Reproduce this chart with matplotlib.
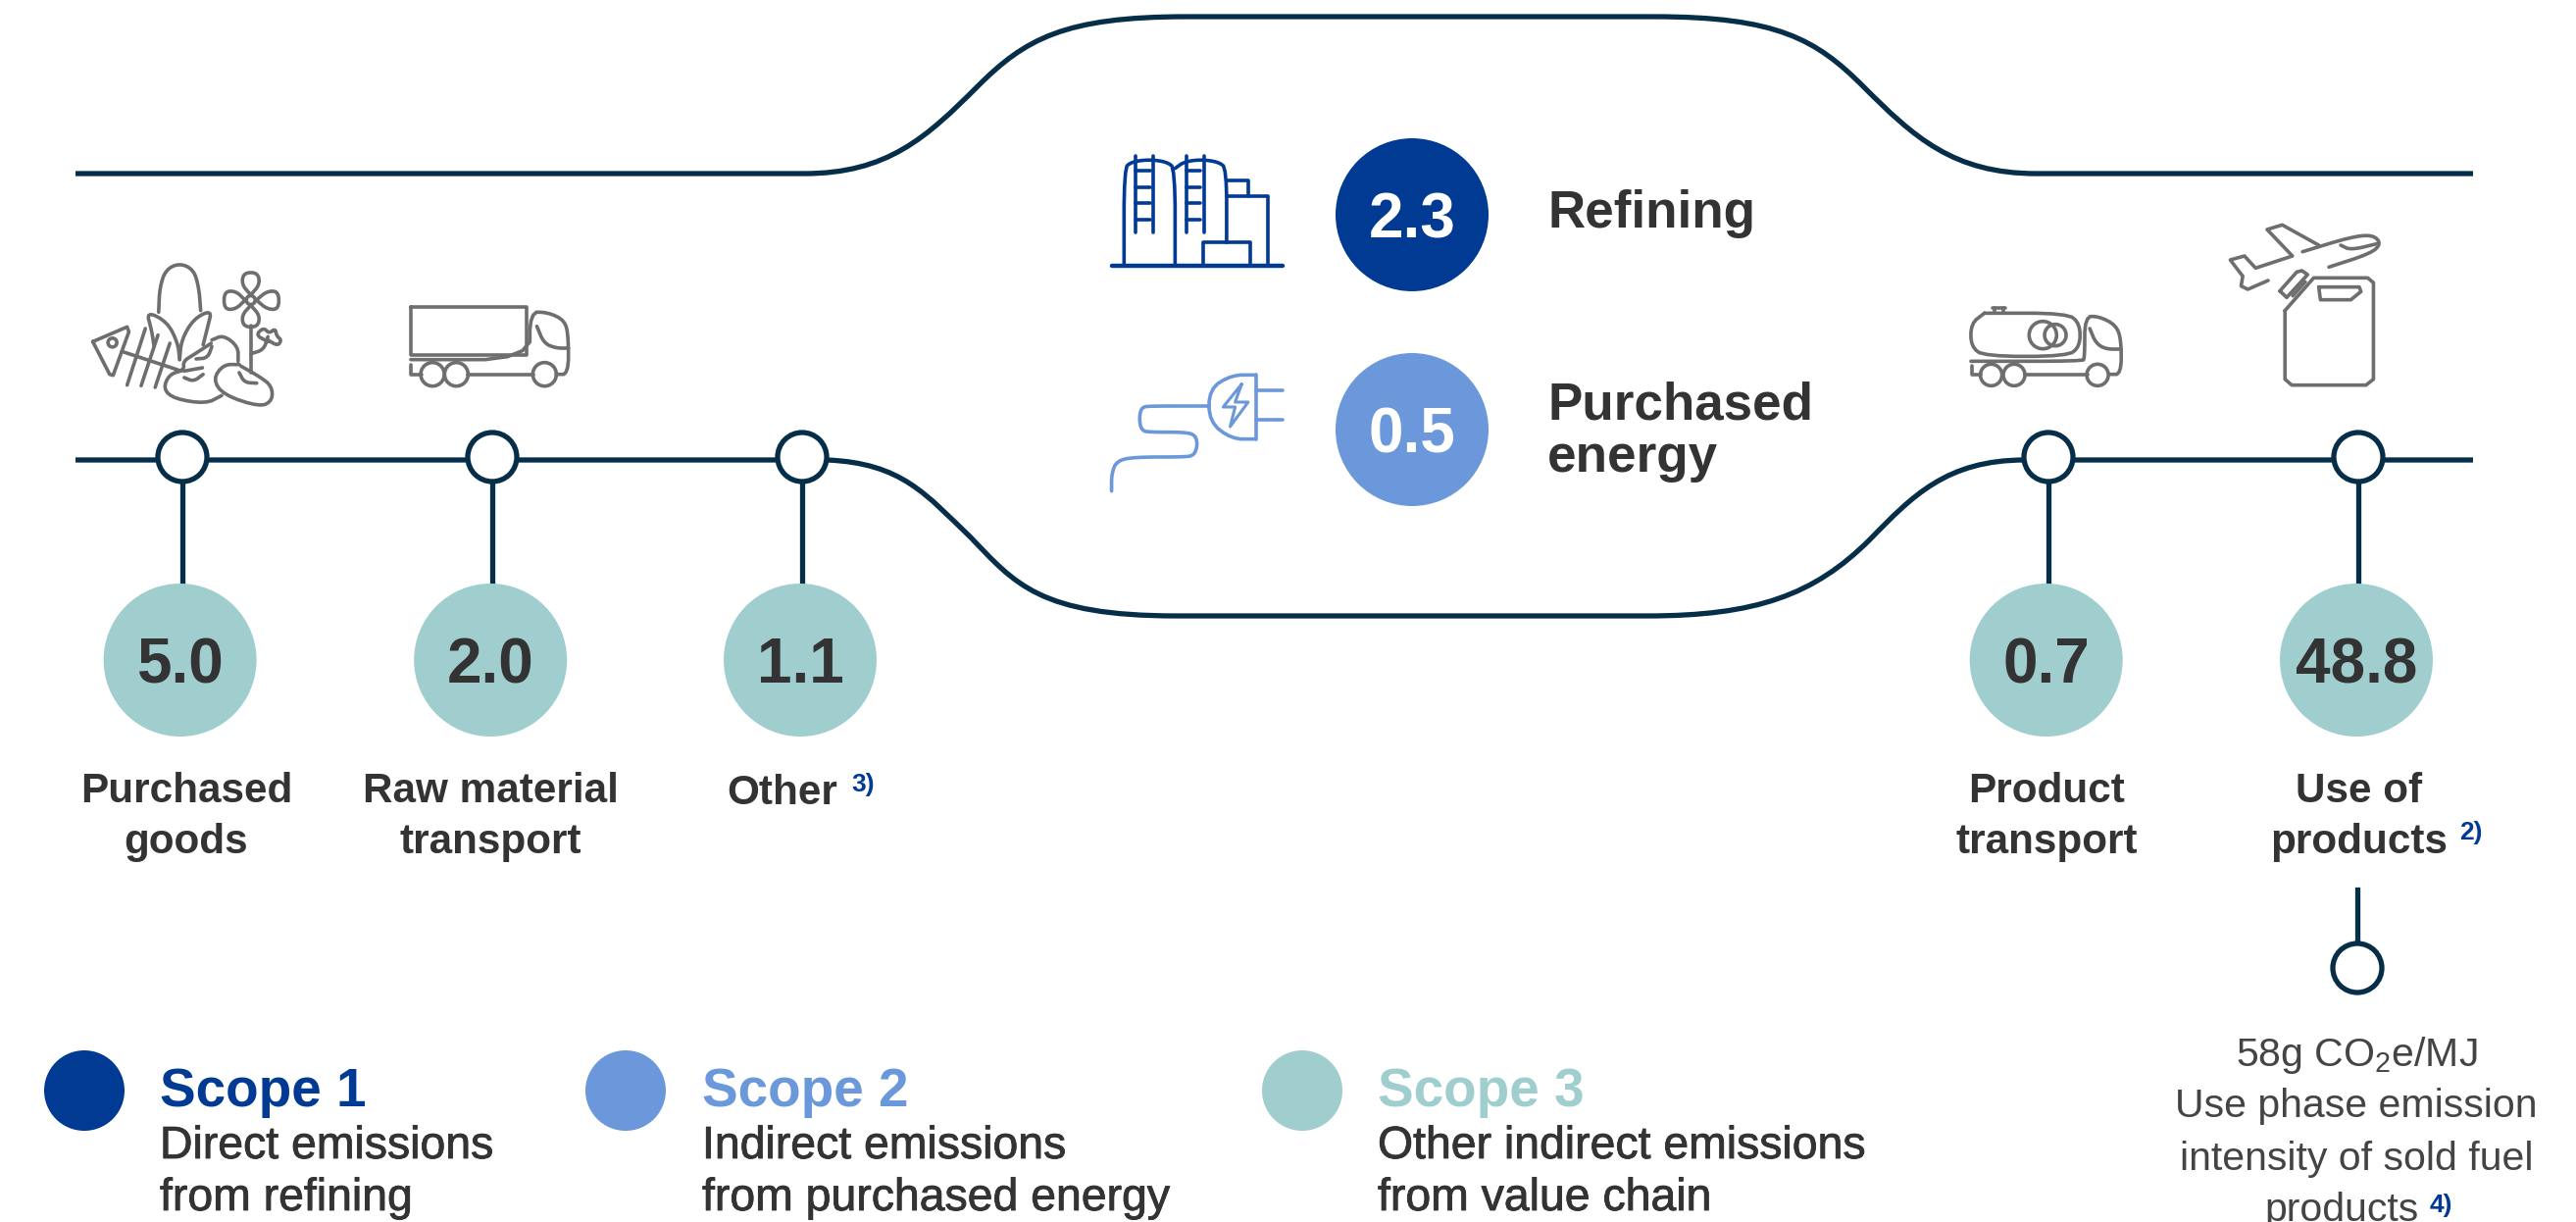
import matplotlib
matplotlib.use("Agg")
import matplotlib.pyplot as plt
from matplotlib.patches import Circle, Ellipse, PathPatch
from matplotlib.path import Path
import matplotlib.patheffects as pe
import numpy as np

plt.rcParams['font.family'] = ['Liberation Sans', 'DejaVu Sans']
plt.rcParams['mathtext.fontset'] = 'custom'
plt.rcParams['mathtext.rm'] = 'Liberation Sans'
plt.rcParams['mathtext.default'] = 'regular'

# values
scope3_values = ['5.0', '2.0', '1.1', '0.7', '48.8']
scope3_labels = ['Purchased\ngoods', 'Raw material\ntransport', 'Other', 'Product\ntransport', 'Use of\nproducts']
refinery_values = ['2.3', '0.5']
refinery_labels = ['Refining', 'Purchased\nenergy']
legend_titles = ['Scope 1', 'Scope 2', 'Scope 3']
legend_text = ['Direct emissions\nfrom refining', 'Indirect emissions\nfrom purchased energy', 'Other indirect emissions\nfrom value chain']
intensity_lines = ['58g CO$_{2}$e/MJ', 'Use phase emission', 'intensity of sold fuel', 'products']

# colours
DARK = '#003a93'
MID = '#6a98db'
TEAL = '#a0cece'
PIPE = '#062e49'
TXT = '#333333'
LIGHT_TXT = '#444444'
GREY = '#6e6e6e'

# pixel positions
node_x = [186, 502, 818, 2089, 2405]
bubble_x = [183.6, 500.2, 816, 2086.7, 2403]
label_x = [190, 500.2, 798, 2087, 2405.5]
label_y = [818, 818, 820, 818, 818]

fig = plt.figure(figsize=(26.27, 12.46), dpi=100)
ax = fig.add_axes([0, 0, 1, 1])
ax.set_xlim(0, 2627)
ax.set_ylim(1246, 0)
ax.axis('off')


def chaikin(pts, n=2):
    pts = np.array(pts, dtype=float)
    for _ in range(n):
        q = pts[:-1] * 0.75 + pts[1:] * 0.25
        r = pts[:-1] * 0.25 + pts[1:] * 0.75
        mid = np.empty((len(q) * 2, 2))
        mid[0::2] = q
        mid[1::2] = r
        pts = np.vstack([pts[:1], mid, pts[-1:]])
    return pts


def stroke(pts, org, scale, col=GREY, lw=2.6, smooth=True):
    p = chaikin(pts) if smooth else np.array(pts, dtype=float)
    ax.plot(org[0] + p[:, 0] / scale[0], org[1] + p[:, 1] / scale[1], color=col, lw=lw,
            solid_capstyle='round', solid_joinstyle='round', zorder=3)


def ring(x, y, r, org, scale, col=GREY, lw=2.6):
    ax.add_patch(Ellipse((org[0] + x / scale[0], org[1] + y / scale[1]), 2 * r, 2 * r, fill=False, ec=col, lw=lw, zorder=3))


def pipe(verts):
    # straight run, two bezier curves, straight run
    codes = [Path.MOVETO, Path.LINETO] + [Path.CURVE4] * (len(verts) - 3) + [Path.LINETO]
    ax.add_patch(PathPatch(Path(verts, codes), fill=False, ec=PIPE, lw=3.8, zorder=1))


# pipes
pipe([(77, 177), (820, 177), (905, 177), (945, 140), (997, 88), (1045, 40), (1085, 17), (1210, 17), (1687, 17)])
pipe([(1687, 17), (1687, 17), (1812, 17), (1852, 40), (1900, 88), (1952, 140), (1992, 177), (2077, 177), (2522, 177)])
pipe([(77, 469), (843, 469), (920, 472), (945, 505), (990, 548), (1035, 595), (1060, 628), (1200, 628), (1680, 628)])
pipe([(1680, 628), (1680, 628), (1790, 628), (1850, 607), (1907, 550), (1950, 506), (1985, 469), (2065, 469), (2522, 469)])

# stems, nodes, bubbles
for i, x in enumerate(node_x):
    ax.plot([x, x], [469, 620], color=PIPE, lw=3.8, zorder=1)
    ax.add_patch(Circle((x, 466), 25, fc='white', ec=PIPE, lw=3.8, zorder=2))
    ax.add_patch(Circle((bubble_x[i], 673), 78, fc=TEAL, ec='none', zorder=2))
    ax.text(bubble_x[i], 673, scope3_values[i], ha='center', va='center_baseline', fontsize=46, fontweight='bold', color=TXT, zorder=4)
    for j, t in enumerate(scope3_labels[i].split('\n')):
        ax.text(label_x[i], label_y[i] + j * 52, t, ha='center', va='baseline', fontsize=30.4, fontweight='bold', color=TXT)

ax.text(868, 807, '3)', ha='left', va='baseline', fontsize=19, fontweight='bold', color=DARK)
ax.text(2508, 856, '2)', ha='left', va='baseline', fontsize=19, fontweight='bold', color=DARK)

# refinery circles
ref_y = [219, 438]
ref_col = [DARK, MID]
for i, y in enumerate(ref_y):
    ax.add_patch(Circle((1440, y), 78, fc=ref_col[i], ec='none', zorder=2))
    ax.text(1440, y, refinery_values[i], ha='center', va='center_baseline', fontsize=46, fontweight='bold', color='white', zorder=4)
ax.text(1578, 232, refinery_labels[0], ha='left', va='baseline', fontsize=38.2, fontweight='bold', color=TXT)
for j, t in enumerate(refinery_labels[1].split('\n')):
    ax.text(1578, 427 + j * 54, t, ha='left', va='baseline', fontsize=38.2, fontweight='bold', color=TXT)

# intensity branch
ax.plot([2404, 2404], [907, 960], color=PIPE, lw=3.8, zorder=1)
ax.add_patch(Circle((2404, 987), 25, fc='white', ec=PIPE, lw=3.8, zorder=2))
for y, t in zip([1087, 1139, 1193, 1245], intensity_lines):
    x = 2403 if t != 'products' else 2388
    ax.text(x, y, t, ha='center', va='baseline', fontsize=29.5, color=LIGHT_TXT)
ax.text(2478, 1236, '4)', ha='left', va='baseline', fontsize=19, fontweight='bold', color=DARK)

# legend
leg_x = [86, 638, 1328]
leg_tx = [163, 716, 1405]
leg_col = [DARK, MID, TEAL]
for i in range(3):
    ax.add_patch(Circle((leg_x[i], 1112), 41, fc=leg_col[i], ec='none'))
    ax.text(leg_tx[i], 1128, legend_titles[i], ha='left', va='baseline', fontsize=39.5, fontweight='bold', color=leg_col[i])
    for j, t in enumerate(legend_text[i].split('\n')):
        ax.text(leg_tx[i], 1181 + j * 53, t, ha='left', va='baseline', fontsize=33.4, color=TXT,
                path_effects=[pe.withStroke(linewidth=0.6, foreground=TXT)])

# refinery icon
o1, s1 = (1080, 120), (1.96, 3)
stroke([(105, 453), (447, 453)], o1, s1, DARK, 3.2, False)
stroke([(130, 453), (130, 155), (145, 135), (180, 128), (215, 135), (232, 155), (232, 453)], o1, s1, DARK, 2.6)
stroke([(232, 155), (250, 135), (283, 128), (318, 135), (335, 155), (335, 382)], o1, s1, DARK, 2.6)
for vx in [153, 189, 255, 291]:
    stroke([(vx, 117), (vx, 350)], o1, s1, DARK, 2.6, False)
for ry in [162, 212, 262, 312]:
    stroke([(153, ry), (182, ry)], o1, s1, DARK, 2.6, False)
    stroke([(255, ry), (283, ry)], o1, s1, DARK, 2.6, False)
stroke([(335, 192), (378, 192), (378, 240)], o1, s1, DARK, 2.6, False)
stroke([(335, 240), (418, 240), (418, 453)], o1, s1, DARK, 2.6, False)
stroke([(288, 453), (288, 382), (382, 382), (382, 453)], o1, s1, DARK, 2.6, False)

# plug icon
stroke([(393, 787), (393, 983)], o1, s1, MID, 2.6, False)
stroke([(393, 787), (345, 787), (300, 830), (300, 930), (345, 983), (393, 983)], o1, s1, MID, 2.6)
stroke([(393, 833), (447, 833)], o1, s1, MID, 2.6, False)
stroke([(393, 925), (447, 925)], o1, s1, MID, 2.6, False)
stroke([(365, 815), (328, 885), (352, 885), (342, 945), (378, 870), (352, 870), (365, 815)], o1, s1, MID, 2.2, False)
stroke([(300, 882), (185, 882), (165, 885), (160, 920), (165, 958), (185, 962), (250, 962), (272, 970), (277, 1000), (270, 1033),
        (250, 1038), (150, 1038), (115, 1050), (105, 1090), (105, 1142)], o1, s1, MID, 2.6)

# food icon
o2, s2 = (60, 240), (2.8, 3)
stroke([(285, 235), (288, 160), (305, 105), (345, 85), (385, 105), (400, 160), (405, 230)], o2, s2)
stroke([(345, 380), (340, 330), (310, 265), (250, 232), (265, 290), (272, 340)], o2, s2)
stroke([(345, 380), (350, 320), (385, 255), (437, 228), (425, 280), (412, 335)], o2, s2)
stroke([(97, 325), (195, 280), (200, 295), (155, 428), (145, 425), (97, 325)], o2, s2, smooth=False)
ring(153, 328, 4.5, o2, s2)
stroke([(180, 355), (350, 415)], o2, s2, smooth=False)
stroke([(247, 285), (195, 458)], o2, s2, smooth=False)
stroke([(283, 305), (235, 460)], o2, s2, smooth=False)
stroke([(317, 330), (275, 465)], o2, s2, smooth=False)
stroke([(437, 320), (470, 305), (512, 340), (512, 385)], o2, s2)
stroke([(435, 330), (385, 365), (355, 385), (358, 412), (315, 425), (298, 470), (330, 500), (420, 515), (465, 490)], o2, s2)
stroke([(392, 378), (425, 375), (437, 340)], o2, s2)
stroke([(358, 415), (410, 405)], o2, s2, smooth=False)
stroke([(358, 435), (385, 447), (412, 425)], o2, s2)
stroke([(515, 395), (470, 395), (440, 440), (470, 488), (575, 525), (610, 505), (608, 460), (570, 430), (520, 400)], o2, s2)
stroke([(515, 420), (530, 450), (565, 452)], o2, s2)
stroke([(548, 275), (548, 420)], o2, s2, smooth=False)
ring(548, 198, 4.5, o2, s2)
stroke([(548, 182), (522, 150), (528, 114), (568, 114), (574, 150), (548, 182)], o2, s2)
stroke([(548, 214), (522, 245), (528, 280), (568, 280), (574, 245), (548, 214)], o2, s2)
stroke([(532, 198), (505, 170), (472, 172), (472, 226), (505, 226), (532, 198)], o2, s2)
stroke([(564, 198), (595, 170), (628, 172), (628, 226), (595, 226), (564, 198)], o2, s2)
stroke([(548, 362), (585, 350), (597, 310)], o2, s2)
stroke([(597, 325), (562, 305), (585, 282), (600, 300), (618, 285), (622, 308), (636, 320), (625, 338), (597, 320)], o2, s2)

# truck icon
stroke([(1005, 220), (1335, 220), (1335, 365), (1005, 365), (1005, 220)], o2, s2, smooth=False)
stroke([(1005, 380), (1345, 380), (1345, 235), (1395, 235), (1445, 260), (1455, 310), (1455, 425), (1420, 425)], o2, s2)
stroke([(1365, 278), (1385, 330), (1420, 345), (1455, 345)], o2, s2)
for wx in [1067, 1135, 1387]:
    ring(wx, 425, 12, o2, s2)
stroke([(1167, 425), (1355, 425)], o2, s2, smooth=False)
stroke([(1005, 395), (1005, 425), (1035, 425)], o2, s2, smooth=False)

# tanker icon
o3, s3 = (1960, 200), (2.9037, 3)
stroke([(185, 358), (430, 358), (468, 390), (468, 460), (430, 490), (185, 490), (145, 460), (145, 390), (185, 358)], o3, s3)
stroke([(208, 342), (246, 342)], o3, s3, smooth=False)
stroke([(215, 342), (215, 358)], o3, s3, smooth=False)
stroke([(240, 342), (240, 358)], o3, s3, smooth=False)
ring(358, 425, 14, o3, s3)
ring(395, 425, 11, o3, s3)
stroke([(145, 505), (475, 505), (482, 495), (482, 368), (525, 368), (575, 395), (590, 440), (590, 545), (555, 545)], o3, s3)
stroke([(497, 405), (515, 450), (545, 468), (590, 468)], o3, s3)
for wx in [205, 273, 520]:
    ring(wx, 547, 11, o3, s3)
stroke([(305, 547), (490, 547)], o3, s3, smooth=False)
stroke([(148, 518), (148, 547), (175, 547)], o3, s3, smooth=False)

# plane and can icon
stroke([(1127, 170), (1270, 125), (1335, 118), (1360, 145), (1330, 175), (1205, 217)], o3, s3)
stroke([(1240, 150), (1270, 165), (1350, 145)], o3, s3)
stroke([(1175, 150), (1067, 88), (1022, 102), (1097, 183), (988, 220), (955, 183), (913, 195), (950, 245), (945, 275), (965, 285),
        (1025, 258)], o3, s3, smooth=False)
stroke([(1075, 350), (1160, 250), (1320, 250), (1337, 265), (1337, 560), (1315, 578), (1095, 578), (1075, 560), (1075, 350)], o3, s3, smooth=False)
stroke([(1175, 278), (1295, 278), (1300, 292), (1270, 317), (1180, 317), (1175, 278)], o3, s3, smooth=False)
stroke([(1060, 290), (1110, 232), (1125, 228), (1142, 240), (1080, 310), (1060, 290)], o3, s3, smooth=False)
stroke([(1098, 305), (1135, 262)], o3, s3, smooth=False)

fig.savefig('out.png', dpi=100)
